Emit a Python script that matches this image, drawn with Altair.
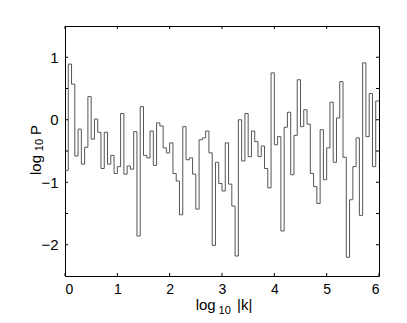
import altair as alt
import pandas as pd

FONT = "Liberation Sans"

log_p = [-0.81, 0.89, 0.57, -0.58, -0.15, -0.71, -0.44, 0.37, -0.31, 0.01,
         -0.20, -0.78, -0.20, -0.71, -0.57, -0.86, -0.75, 0.10, -0.87, -0.74,
         -0.79, -0.19, -1.86, 0.21, -0.57, -0.61, -0.18, -0.73, -0.05, -0.10,
         -0.45, -0.53, -0.37, -0.86, -0.98, -1.52, -0.11, -0.64, -0.61, -0.87,
         -1.43, -0.32, -0.29, -0.18, -0.53, -2.01, -0.68, -1.02, -1.14, -0.37,
         -1.03, -1.38, -2.18, 0.00, -0.66, 0.10, -0.59, -0.18, -0.35, -0.59,
         -0.42, -0.78, -1.09, 0.75, -0.40, -0.27, -1.78, -0.12, 0.12, -0.88,
         -0.25, 0.64, -0.11, 0.16, -0.07, -0.86, -1.07, -1.34, -0.16, -0.96,
         -0.45, 0.28, -0.68, 0.03, 0.61, -0.60, -2.20, -1.28, -0.75, -0.29,
         -1.53, 0.91, -0.27, 0.42, -0.75, 0.30]

x_ticks = [0, 1, 2, 3, 4, 5, 6]
y_labels = [-2, -1, 0, 1]
y_ticks = [-2, -1.5, -1, -0.5, 0, 0.5, 1]
x_domain = [0, 6]
y_domain = [-2.5, 1.5]

W, H = 314, 250
TL = 3

n = len(log_p)
edges = [i * (x_domain[1] - x_domain[0]) / n for i in range(n + 1)]
df = pd.DataFrame({"logk": edges, "logp": log_p + [log_p[-1]]})

xs = alt.Scale(domain=x_domain, nice=False, zero=False)
ys = alt.Scale(domain=y_domain, nice=False, zero=False)
xa = alt.Axis(values=x_ticks, format="d", title=None, ticks=False, domain=False, grid=False,
              labelFont=FONT, labelFontSize=14, labelColor="black", labelPadding=6)
ya = alt.Axis(values=y_labels, format="d", title=None, ticks=False, domain=False, grid=False,
              labelFont=FONT, labelFontSize=15, labelColor="black", labelPadding=7)

line = alt.Chart(df).mark_line(interpolate="step-after", color="#555555", strokeWidth=1).encode(
    x=alt.X("logk:Q", scale=xs, axis=xa),
    y=alt.Y("logp:Q", scale=ys, axis=ya),
)

xt = pd.DataFrame({"logk": x_ticks})
yt = pd.DataFrame({"logp": y_ticks})

tick_b = alt.Chart(xt).mark_rule(color="black", strokeWidth=1).encode(
    x=alt.X("logk:Q", scale=xs, axis=xa), y=alt.value(H), y2=alt.value(H - TL))
tick_t = alt.Chart(xt).mark_rule(color="black", strokeWidth=1).encode(
    x=alt.X("logk:Q", scale=xs, axis=xa), y=alt.value(0), y2=alt.value(TL))
tick_l = alt.Chart(yt).mark_rule(color="black", strokeWidth=1).encode(
    y=alt.Y("logp:Q", scale=ys, axis=ya), x=alt.value(0), x2=alt.value(TL))
tick_r = alt.Chart(yt).mark_rule(color="black", strokeWidth=1).encode(
    y=alt.Y("logp:Q", scale=ys, axis=ya), x=alt.value(W), x2=alt.value(W - TL))


def label(txt, x, y, size, angle=0):
    return alt.Chart(pd.DataFrame({"t": [txt]})).mark_text(
        font=FONT, fontSize=size, angle=angle, align="center", baseline="alphabetic", color="black"
    ).encode(x=alt.value(x), y=alt.value(y), text="t:N")


titles = [
    label("log", 140.7, 283.6, 15),
    label("10", 159.7, 287.6, 11),
    label("|k|", 179.7, 283.6, 15),
    label("log", -24.5, 139, 15, 270),
    label("10", -22, 119, 11, 270),
    label("P", -24.5, 104, 15, 270),
]

chart = alt.layer(line, tick_b, tick_t, tick_l, tick_r, *titles).properties(
    width=W, height=H,
    autosize=alt.AutoSizeParams(type="none"),
    padding={"left": 57, "top": 18, "right": 20, "bottom": 39},
    background="white",
).configure_view(stroke="black", strokeWidth=1)

chart.save("out.html", embed_options={"renderer": "svg", "actions": False})
